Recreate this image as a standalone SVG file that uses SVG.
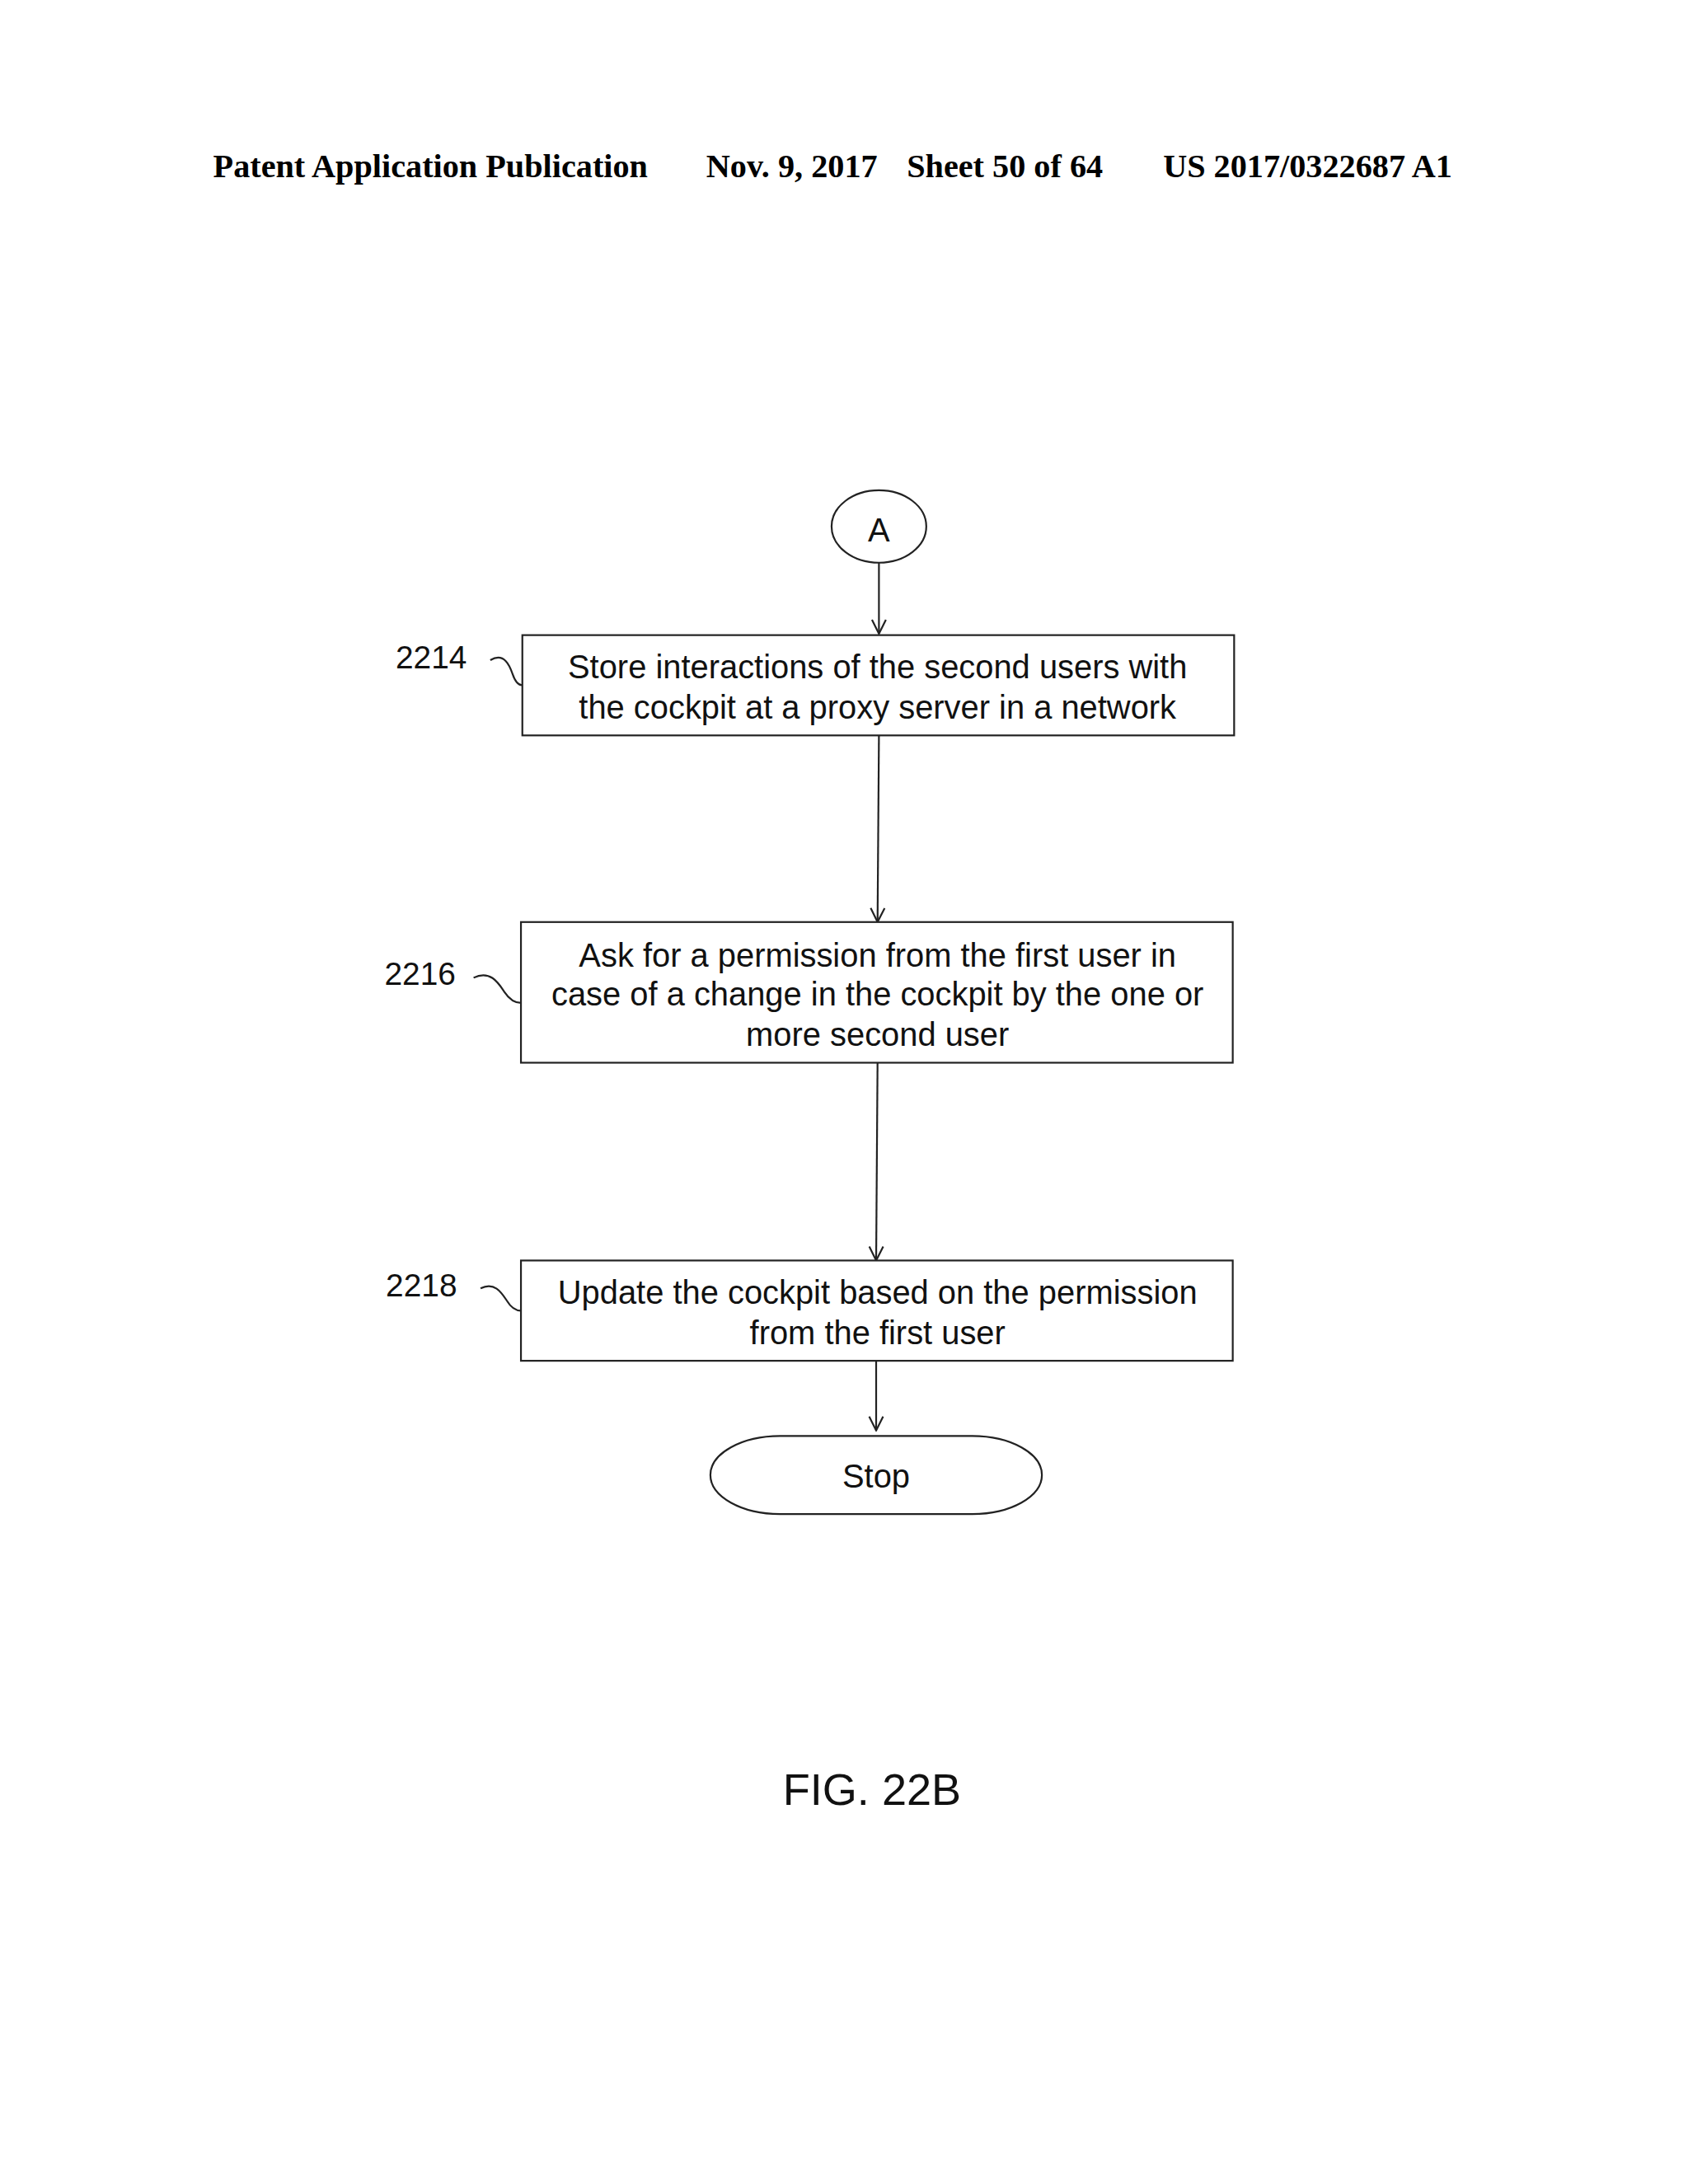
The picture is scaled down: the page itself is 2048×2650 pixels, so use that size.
<svg xmlns="http://www.w3.org/2000/svg" width="2048" height="2650" viewBox="0 0 2048 2650">
<style>
.h{font-family:"Liberation Serif",serif;font-weight:bold;font-size:23.8px;fill:#000}
.t{font-family:"Liberation Sans",Arial,sans-serif;font-size:23.6px;fill:#111;text-anchor:middle}
.l{font-family:"Liberation Sans",Arial,sans-serif;font-size:23px;fill:#111}
.s{fill:#fff;stroke:#222;stroke-width:1.3}
.c{fill:none;stroke:#222;stroke-width:1.3}
</style>
<defs><marker id="a" viewBox="0 0 12 12" refX="11" refY="6" markerWidth="12" markerHeight="12" markerUnits="userSpaceOnUse" orient="auto"><path d="M1,1 L11,6 L1,11" fill="none" stroke="#222" stroke-width="1.3"/></marker></defs>
<rect width="2048" height="2650" fill="#fff"/>
<g transform="scale(1.690)">
<g id="header">
<text class="h" x="153" y="127">Patent Application Publication</text>
<text class="h" x="507" y="127">Nov. 9, 2017</text>
<text class="h" x="651" y="127">Sheet 50 of 64</text>
<text class="h" x="835" y="127">US 2017/0322687 A1</text>
</g>
<g id="connectors">
<line class="c" x1="631" y1="404" x2="631" y2="455" marker-end="url(#a)"/>
<line class="c" x1="631" y1="528" x2="630" y2="662" marker-end="url(#a)"/>
<line class="c" x1="630" y1="763" x2="629" y2="905" marker-end="url(#a)"/>
<line class="c" x1="629" y1="977" x2="629" y2="1027" marker-end="url(#a)"/>
<path class="c" d="M352,474 C362,468 366,478 368,484 C370,490 372,492 375,492"/>
<path class="c" d="M340,702 C352,696 358,706 362,712 C366,718 370,720 374,720"/>
<path class="c" d="M345,925 C355,920 360,928 364,934 C367,939 370,941 374,941"/>
</g>
<g id="nA"><ellipse class="s" cx="631" cy="378" rx="34" ry="26"/><text class="t" x="631" y="389">A</text></g>
<g id="n2214"><rect class="s" x="375" y="456" width="511" height="72"/>
<text class="t" x="630" y="487">Store interactions of the second users with</text>
<text class="t" x="630" y="516">the cockpit at a proxy server in a network</text>
<text class="l" x="284" y="480">2214</text></g>
<g id="n2216"><rect class="s" x="374" y="662" width="511" height="101"/>
<text class="t" x="630" y="694">Ask for a permission from the first user in</text>
<text class="t" x="630" y="722">case of a change in the cockpit by the one or</text>
<text class="t" x="630" y="751">more second user</text>
<text class="l" x="276" y="707">2216</text></g>
<g id="n2218"><rect class="s" x="374" y="905" width="511" height="72"/>
<text class="t" x="630" y="936">Update the cockpit based on the permission</text>
<text class="t" x="630" y="965">from the first user</text>
<text class="l" x="277" y="931">2218</text></g>
<g id="nStop"><rect class="s" x="510" y="1031" width="238" height="56" rx="50" ry="28"/><text class="t" x="629" y="1068">Stop</text></g>
<text class="l" x="626" y="1296" style="font-size:32px;text-anchor:middle">FIG. 22B</text>
</g>
</svg>
